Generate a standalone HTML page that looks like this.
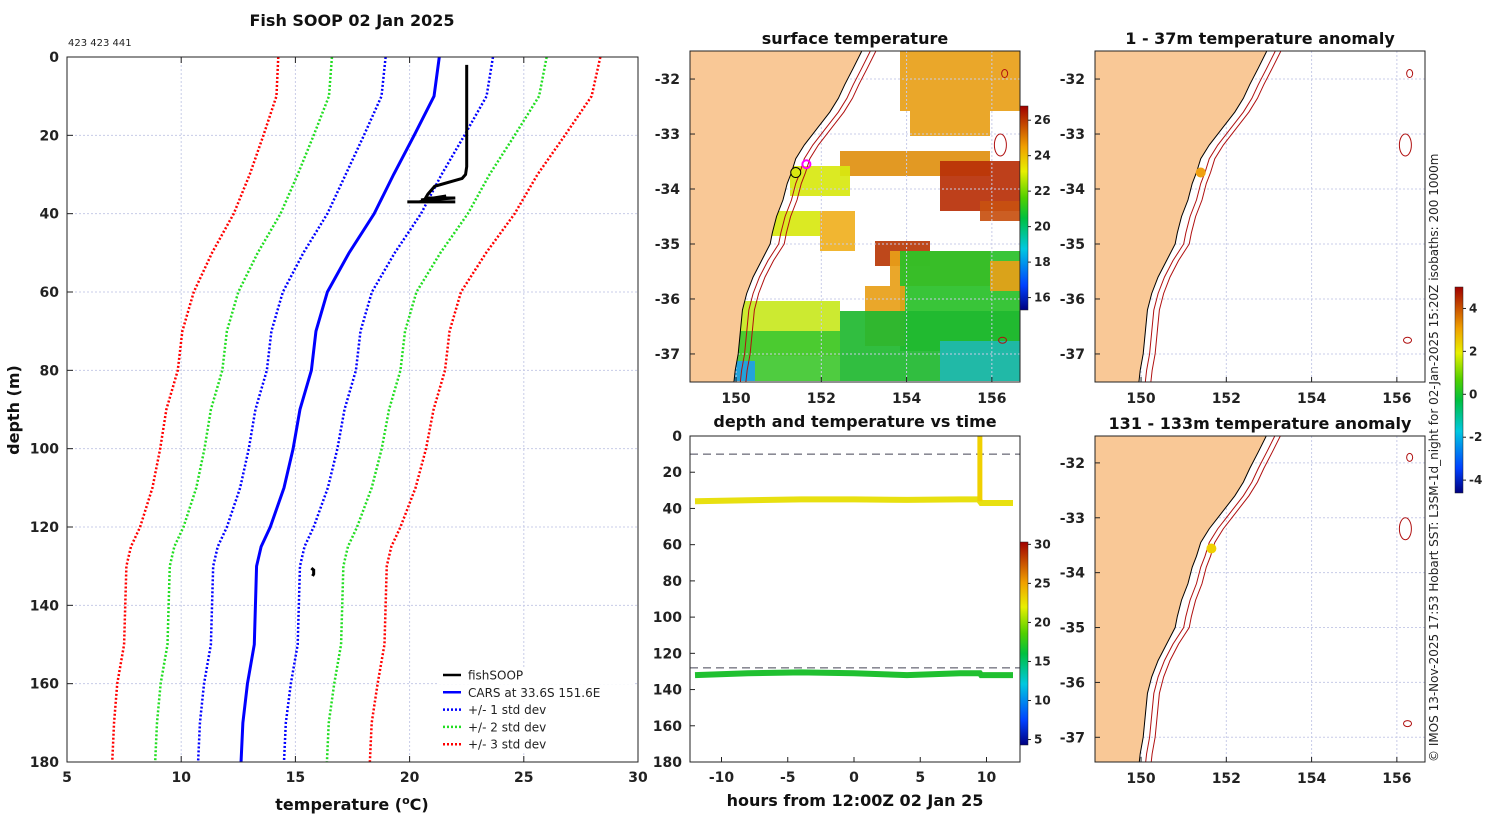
<!DOCTYPE html>
<html><head><meta charset="utf-8">
<style>
body{margin:0;background:#fff;}
svg{display:block;font-family:"DejaVu Sans","Liberation Sans",sans-serif;}
.t{font-weight:bold;font-size:14px;fill:#222;}
.ti{font-weight:bold;font-size:16px;fill:#111;}
.sm{font-size:11px;fill:#222;}
</style></head>
<body>
<svg id="fig" width="1500" height="820" viewBox="0 0 1500 820">
<defs>
<linearGradient id="jet" x1="0" y1="1" x2="0" y2="0">
<stop offset="0" stop-color="#00007f"/><stop offset="0.12" stop-color="#0040ff"/><stop offset="0.3" stop-color="#00c8e0"/><stop offset="0.45" stop-color="#00c040"/><stop offset="0.55" stop-color="#50d000"/><stop offset="0.68" stop-color="#e8f000"/><stop offset="0.8" stop-color="#f0a000"/><stop offset="1" stop-color="#a00000"/>
</linearGradient>
</defs>
<g id="main"></g>
<g id="sst"></g>
<g id="ts"></g>
<g id="an1"></g>
<g id="an2"></g>
<text x="1438" y="762" transform="rotate(-90 1438 762)" class="sm" style="font-size:12px">© IMOS 13-Nov-2025 17:53 Hobart SST: L3SM-1d_night for 02-Jan-2025 15:20Z isobaths: 200  1000m</text>
</svg>
<script>
// ---- profile data ----
const depths = [0,10,20,30,40,50,60,70,80,90,100,110,120,125,130,140,150,160,170,180];
const carsMean = [21.3,21.07,20.2,19.3,18.45,17.35,16.4,15.9,15.7,15.2,14.9,14.5,13.9,13.5,13.3,13.25,13.2,12.9,12.7,12.62];
const carsStd = [2.35,2.3,2.2,2.1,2.05,2.0,1.95,1.95,1.95,1.95,1.94,1.92,1.9,1.9,1.9,1.9,1.9,1.9,1.88,1.88];
const fishT = [22.5,22.5,22.5,22.5,22.45,22.3,21.1,20.8,20.7,22.0,20.5,21.6,20.4,22.0,19.9];
const fishD = [2,10,20,28,30,31,33,35,36,36,36.5,35.5,37,37,37];
const fishT2 = [15.7,15.8,15.8,15.75];
const fishD2 = [130.5,131,132,132.5];
const xTicks = [5,10,15,20,25,30];
const yTicks = [0,20,40,60,80,100,120,140,160,180];
// ---- time series data ----
const hours = [-12,-8,-4,0,4,8,9.4,9.5,9.6,12];
const shallowDepth = [36,35.5,35,35,35.3,35,35,36,37,37];
const deepDepth = [132,131,130.5,131,132,131,131,131,132,132];
const tsXTicks = [-10,-5,0,5,10];
const tsYTicks = [0,20,40,60,80,100,120,140,160,180];
// ---- map data ----
const lonTicks = [150,152,154,156];
const latTicks = [-32,-33,-34,-35,-36,-37];
const coastLon = [152.95,152.75,152.55,152.4,152.2,152.0,151.8,151.6,151.4,151.3,151.2,151.1,150.95,150.85,150.8,150.6,150.4,150.25,150.15,150.1,150.05,149.98,149.95];
const coastLat = [-31.49,-31.8,-32.1,-32.35,-32.6,-32.8,-33.0,-33.2,-33.45,-33.7,-33.9,-34.2,-34.5,-34.8,-35.0,-35.3,-35.6,-35.9,-36.2,-36.6,-37.0,-37.3,-37.51];
const sstTicks = [16,18,20,22,24,26];
const tsCbTicks = [5,10,15,20,25,30];
const anTicks = [-4,-2,0,2,4];

const NS="http://www.w3.org/2000/svg";
function mk(p,tag,at,txt){const e=document.createElementNS(NS,tag);for(const k in at)e.setAttribute(k,at[k]);if(txt!==undefined)e.textContent=txt;p.appendChild(e);return e;}

// ===== main profile =====
(function(){
const g=document.getElementById('main');
const X0=67,X1=638,Y0=57,Y1=762;
const sx=v=>X0+(v-5)/25*(X1-X0), sy=d=>Y0+d/180*(Y1-Y0);
for(const t of xTicks){mk(g,'line',{x1:sx(t),x2:sx(t),y1:Y0,y2:Y1,stroke:'#c8cce8','stroke-dasharray':'2,2','stroke-width':1});}
for(const t of yTicks){mk(g,'line',{x1:X0,x2:X1,y1:sy(t),y2:sy(t),stroke:'#c8cce8','stroke-dasharray':'2,2','stroke-width':1});}
const col={1:'#0000ff',2:'#22dd22',3:'#ff0000'};
for(const k of [1,2,3]){for(const s of [-1,1]){
 const pts=depths.map((d,i)=>sx(carsMean[i]+s*k*carsStd[i])+','+sy(d)).join(' ');
 const e=mk(g,'polyline',{points:pts,fill:'none',stroke:col[k],'stroke-width':2.5,'stroke-dasharray':'2,2'});
 
 
}}
const cars=mk(g,'polyline',{points:depths.map((d,i)=>sx(carsMean[i])+','+sy(d)).join(' '),fill:'none',stroke:'#0000ff','stroke-width':3});


const f=mk(g,'polyline',{points:fishD.map((d,i)=>sx(fishT[i])+','+sy(d)).join(' '),fill:'none',stroke:'#000','stroke-width':3});


const f2=mk(g,'polyline',{points:fishD2.map((d,i)=>sx(fishT2[i])+','+sy(d)).join(' '),fill:'none',stroke:'#000','stroke-width':3});


const leg=[['fishSOOP','#000',''],['CARS at 33.6S 151.6E','#0000ff',''],['+/- 1 std dev','#0000ff','2,2'],['+/- 2 std dev','#22dd22','2,2'],['+/- 3 std dev','#ff0000','2,2']];
leg.forEach((l,i)=>{const y=675+i*17.3;const lg=mk(g,'g',{});
 mk(lg,'rect',{x:438,y:y-8,width:195,height:17,fill:'#fff'});
 const a={x1:443,x2:461,y1:y,y2:y,stroke:l[1],'stroke-width':2.5};if(l[2])a['stroke-dasharray']=l[2];mk(lg,'line',a);
 mk(lg,'text',{x:468,y:y+4.5,class:'sm',style:'font-size:12px'},l[0]);});
mk(g,'rect',{x:X0,y:Y0,width:X1-X0,height:Y1-Y0,fill:'none',stroke:'#222','stroke-width':1});
for(const t of xTicks){mk(g,'line',{x1:sx(t),x2:sx(t),y1:Y1,y2:Y1-6,stroke:'#222'});mk(g,'line',{x1:sx(t),x2:sx(t),y1:Y0,y2:Y0+6,stroke:'#222'});mk(g,'text',{x:sx(t),y:Y1+20,'text-anchor':'middle',class:'t'},t);}
for(const t of yTicks){mk(g,'line',{x1:X0,x2:X0+6,y1:sy(t),y2:sy(t),stroke:'#222'});mk(g,'text',{x:X0-8,y:sy(t)+5,'text-anchor':'end',class:'t'},t);}
const tt=mk(g,'text',{x:352,y:26,'text-anchor':'middle',class:'ti'},'Fish SOOP 02 Jan 2025');

mk(g,'text',{x:68,y:46,class:'sm',style:'font-size:10px'},'423 423 441');
const xl=mk(g,'text',{x:352,y:810,'text-anchor':'middle',class:'ti'});xl.innerHTML='temperature (<tspan dy="-6" font-size="11">o</tspan><tspan dy="6">C)</tspan>';

const yl=mk(g,'text',{x:19,y:410,'text-anchor':'middle',class:'ti',transform:'rotate(-90 19 410)'},'depth (m)');

})();

// ===== map helper =====
function drawMap(g,X0,X1,Y0,Y1,latTop,latBot,title,opts){
 const lonL=148.92,lonR=156.66;
 const sx=v=>X0+(v-lonL)/(lonR-lonL)*(X1-X0), sy=v=>Y0+(latTop-v)/(latTop-latBot)*(Y1-Y0);
 const cid='c'+X0+Y0;
 const cp=mk(g,'clipPath',{id:cid});mk(cp,'rect',{x:X0,y:Y0,width:X1-X0,height:Y1-Y0});
 const inner=mk(g,'g',{'clip-path':'url(#'+cid+')'});
 mk(inner,'rect',{x:X0,y:Y0,width:X1-X0,height:Y1-Y0,fill:'#fff'});
 if(opts.sst){
  const blobs=[[210,0,330,60,'#e8a018'],[220,60,300,85,'#e8a018'],[150,100,300,125,'#e09010'],[250,110,330,160,'#b83008'],[290,150,330,170,'#c85010'],[100,115,160,145,'#d8e810'],[130,160,165,200,'#f0b020'],[40,160,130,185,'#d8e810'],[185,190,240,215,'#b83808'],[200,200,300,235,'#e8a018'],[210,200,330,300,'#28c028'],[175,235,215,295,'#e8a018'],[150,260,330,330,'#20b830'],[40,250,150,305,'#c8e820'],[30,280,150,330,'#40c830'],[250,290,330,330,'#20b8b0'],[35,310,65,330,'#20a0e8'],[300,210,330,240,'#e8a018']];
  for(const b of blobs){mk(inner,'rect',{x:X0+b[0],y:Y0+b[1],width:b[2]-b[0],height:b[3]-b[1],fill:b[4],opacity:0.92});}
 }
 for(const t of lonTicks){mk(inner,'line',{x1:sx(t),x2:sx(t),y1:Y0,y2:Y1,stroke:'#c8cce8','stroke-dasharray':'2,2'});}
 for(const t of latTicks){mk(inner,'line',{x1:X0,x2:X1,y1:sy(t),y2:sy(t),stroke:'#c8cce8','stroke-dasharray':'2,2'});}
 const land='M'+X0+','+(Y0-5)+' '+coastLon.map((l,i)=>'L'+sx(l)+','+sy(coastLat[i])).join(' ')+' L'+sx(coastLon[coastLon.length-1])+','+(Y1+5)+' L'+X0+','+(Y1+5)+'Z';
 const ld=mk(inner,'path',{d:land,fill:'#f9c896',stroke:'#000','stroke-width':1});
 
 for(const off of [0.2,0.33]){mk(inner,'polyline',{points:coastLon.map((l,i)=>sx(l+off+(i>14?-0.05:0))+','+sy(coastLat[i])).join(' '),fill:'none',stroke:'#b01010','stroke-width':1});}
 for(const s of [[156.2,-33.2,6,11],[156.3,-31.9,3,4],[156.25,-36.75,4,3]]){mk(inner,'ellipse',{cx:sx(s[0]),cy:sy(s[1]),rx:s[2],ry:s[3],fill:'none',stroke:'#b01010'});}
 if(opts.dot){const d=mk(inner,'circle',{cx:sx(opts.dot[0]),cy:sy(opts.dot[1]),r:5,fill:opts.dot[2],stroke:opts.dot[3]||'none'});}
 if(opts.ring){mk(inner,'circle',{cx:sx(opts.ring[0]),cy:sy(opts.ring[1]),r:4,fill:'none',stroke:'#ff00ff','stroke-width':2});}
 mk(g,'rect',{x:X0,y:Y0,width:X1-X0,height:Y1-Y0,fill:'none',stroke:'#222'});
 for(const t of lonTicks){mk(g,'line',{x1:sx(t),x2:sx(t),y1:Y1,y2:Y1-5,stroke:'#222'});mk(g,'text',{x:sx(t),y:Y1+21,'text-anchor':'middle',class:'t'},t);}
 for(const t of latTicks){mk(g,'line',{x1:X0,x2:X0+5,y1:sy(t),y2:sy(t),stroke:'#222'});mk(g,'text',{x:X0-10,y:sy(t)+5,'text-anchor':'end',class:'t'},t);}
 const tt=mk(g,'text',{x:(X0+X1)/2,y:Y0-7,'text-anchor':'middle',class:'ti'},title);
 
}
function colorbar(g,x,y0,y1,ticks,lo,hi){
 mk(g,'rect',{x:x,y:y0,width:8,height:y1-y0,fill:'url(#jet)',stroke:'#222','stroke-width':0.5});
 for(const t of ticks){const y=y1-(t-lo)/(hi-lo)*(y1-y0);mk(g,'line',{x1:x+8,x2:x+11,y1:y,y2:y,stroke:'#222'});mk(g,'text',{x:x+14,y:y+4,class:'sm',style:'font-size:12px;font-weight:bold'},t);}
}
(function(){
 const g=document.getElementById('sst');
 drawMap(g,690,1020,51,382,-31.49,-37.51,'surface temperature',{sst:true,dot:[151.4,-33.7,'#d8e810','#000'],ring:[151.65,-33.55]});
 colorbar(g,1020,106,310,sstTicks,15.3,26.8);
 const a=document.getElementById('an1');
 drawMap(a,1095,1425,51,382,-31.49,-37.51,'1 - 37m temperature anomaly',{dot:[151.4,-33.7,'#f0a010']});
 colorbar(a,1455,287,493,anTicks,-4.6,5);
 const b=document.getElementById('an2');
 drawMap(b,1095,1425,436,762,-31.51,-37.45,'131 - 133m temperature anomaly',{dot:[151.65,-33.56,'#f0d000']});
})();

// ===== time series =====
(function(){
 const g=document.getElementById('ts');
 const X0=690,X1=1020,Y0=436,Y1=762;
 const sx=h=>854+h*13.25, sy=d=>Y0+d/180*(Y1-Y0);
 mk(g,'line',{x1:X0,x2:X1,y1:sy(10),y2:sy(10),stroke:'#445','stroke-dasharray':'8,5'});
 mk(g,'line',{x1:X0,x2:X1,y1:sy(128),y2:sy(128),stroke:'#445','stroke-dasharray':'8,5'});
 const s=mk(g,'polyline',{points:hours.map((h,i)=>sx(h)+','+sy(shallowDepth[i])).join(' '),fill:'none',stroke:'#e8e010','stroke-width':6});
 
 const v=mk(g,'line',{x1:sx(9.5),x2:sx(9.5),y1:sy(0),y2:sy(36),stroke:'#f0d000','stroke-width':5});
 
 const d=mk(g,'polyline',{points:hours.map((h,i)=>sx(h)+','+sy(deepDepth[i])).join(' '),fill:'none',stroke:'#20c030','stroke-width':6});
 
 mk(g,'rect',{x:X0,y:Y0,width:X1-X0,height:Y1-Y0,fill:'none',stroke:'#222'});
 for(const t of tsXTicks){mk(g,'line',{x1:sx(t),x2:sx(t),y1:Y1,y2:Y1-5,stroke:'#222'});mk(g,'text',{x:sx(t),y:Y1+20,'text-anchor':'middle',class:'t'},t);}
 for(const t of tsYTicks){mk(g,'line',{x1:X0,x2:X0+5,y1:sy(t),y2:sy(t),stroke:'#222'});mk(g,'text',{x:X0-8,y:sy(t)+5,'text-anchor':'end',class:'t'},t);}
 mk(g,'text',{x:855,y:427,'text-anchor':'middle',class:'ti'},'depth and temperature vs time');
 const xl=mk(g,'text',{x:855,y:806,'text-anchor':'middle',class:'ti'},'hours from 12:00Z 02 Jan 25');
 
 colorbar(g,1020,542,745,tsCbTicks,4.3,30.3);
})();
</script>
</body></html>
